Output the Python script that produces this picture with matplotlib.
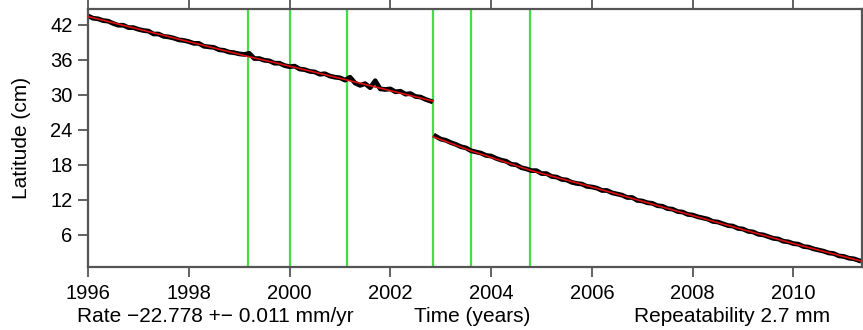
import matplotlib
matplotlib.use("Agg")
import matplotlib.pyplot as plt

plt.rcParams['font.family'] = ['Liberation Sans', 'DejaVu Sans']

# Observed latitude (cm), segment before the 2002.85 offset
t1 = [1996.0, 1996.1, 1996.2, 1996.3, 1996.4, 1996.5, 1996.6, 1996.7, 1996.8, 1996.9,
      1997.0, 1997.1, 1997.2, 1997.3, 1997.4, 1997.5, 1997.6, 1997.7, 1997.8, 1997.9,
      1998.0, 1998.1, 1998.2, 1998.3, 1998.4, 1998.5, 1998.6, 1998.7, 1998.8, 1998.9,
      1999.0, 1999.1, 1999.2, 1999.3, 1999.4, 1999.5, 1999.6, 1999.7, 1999.8, 1999.9,
      2000.0, 2000.1, 2000.2, 2000.3, 2000.4, 2000.5, 2000.6, 2000.7, 2000.8, 2000.9,
      2001.0, 2001.1, 2001.2, 2001.3, 2001.4, 2001.5, 2001.6, 2001.7, 2001.8, 2001.9,
      2002.0, 2002.1, 2002.2, 2002.3, 2002.4, 2002.5, 2002.6, 2002.7, 2002.8]
lat1 = [43.5, 43.1, 43.0, 42.7, 42.6, 42.2, 41.9, 41.9, 41.5, 41.5,
        41.2, 41.0, 40.9, 40.4, 40.4, 40.0, 39.9, 39.7, 39.4, 39.3,
        39.1, 38.8, 38.8, 38.3, 38.2, 38.1, 37.7, 37.6, 37.3, 37.2,
        37.0, 36.9, 37.1, 36.2, 36.2, 35.9, 35.8, 35.4, 35.4, 35.0,
        34.8, 34.9, 34.4, 34.3, 34.0, 33.9, 33.5, 33.6, 33.2, 33.0,
        32.9, 32.5, 33.0, 32.0, 31.6, 31.9, 31.2, 32.4, 31.0, 30.9,
        31.0, 30.5, 30.6, 30.1, 30.2, 29.7, 29.6, 29.2, 28.9]

# Observed latitude (cm), segment after the offset
t2 = [2002.9, 2003.0, 2003.1, 2003.2, 2003.3, 2003.4, 2003.5, 2003.6, 2003.7, 2003.8,
      2003.9, 2004.0, 2004.1, 2004.2, 2004.3, 2004.4, 2004.5, 2004.6, 2004.7, 2004.8,
      2004.9, 2005.0, 2005.1, 2005.2, 2005.3, 2005.4, 2005.5, 2005.6, 2005.7, 2005.8,
      2005.9, 2006.0, 2006.1, 2006.2, 2006.3, 2006.4, 2006.5, 2006.6, 2006.7, 2006.8,
      2006.9, 2007.0, 2007.1, 2007.2, 2007.3, 2007.4, 2007.5, 2007.6, 2007.7, 2007.8,
      2007.9, 2008.0, 2008.1, 2008.2, 2008.3, 2008.4, 2008.5, 2008.6, 2008.7, 2008.8,
      2008.9, 2009.0, 2009.1, 2009.2, 2009.3, 2009.4, 2009.5, 2009.6, 2009.7, 2009.8,
      2009.9, 2010.0, 2010.1, 2010.2, 2010.3, 2010.4, 2010.5, 2010.6, 2010.7, 2010.8,
      2010.9, 2011.0, 2011.1, 2011.2, 2011.3]
lat2 = [22.9, 22.4, 22.2, 21.8, 21.5, 21.1, 20.9, 20.4, 20.2, 20.0,
        19.6, 19.5, 19.1, 18.8, 18.6, 18.1, 18.0, 17.5, 17.3, 17.0,
        17.0, 16.5, 16.5, 16.0, 15.9, 15.5, 15.4, 15.0, 14.8, 14.7,
        14.3, 14.2, 14.0, 13.6, 13.6, 13.2, 13.0, 12.8, 12.4, 12.4,
        11.9, 11.8, 11.5, 11.4, 11.0, 10.9, 10.5, 10.4, 10.0, 9.9,
        9.5, 9.4, 9.1, 8.9, 8.7, 8.3, 8.2, 7.9, 7.6, 7.5,
        7.1, 7.0, 6.6, 6.5, 6.1, 6.0, 5.7, 5.4, 5.3, 4.9,
        4.8, 4.5, 4.4, 4.0, 3.9, 3.6, 3.4, 3.2, 2.9, 2.8,
        2.4, 2.3, 2.0, 1.9, 1.6]

# Model fit (cm)
fit_t1 = [1996.0, 1999.2, 2000.0, 2001.15, 2002.85]
fit_v1 = [43.4, 36.5, 34.9, 32.5, 28.9]
fit_t2 = [2002.85, 2003.6, 2004.8, 2006.0, 2008.0, 2010.0, 2011.35]
fit_v2 = [22.8, 20.4, 17.0, 14.2, 9.3, 4.5, 1.5]

# Event epochs (green lines)
events = [1999.17, 2000.0, 2001.14, 2002.85, 2003.6, 2004.77]

xticks = [1996, 1998, 2000, 2002, 2004, 2006, 2008, 2010]
yticks = [6, 12, 18, 24, 30, 36, 42]

fig = plt.figure(figsize=(8.63, 3.30), dpi=100)
ax = fig.add_axes([0.102, 0.191, 0.8968, 0.782])

for e in events:
    ax.axvline(e, color='#44dd44', lw=1.6, zorder=1)

ax.plot(t1, lat1, color='black', lw=3.4, zorder=2)
ax.plot(t2, lat2, color='black', lw=3.4, zorder=2)
ax.plot(fit_t1, fit_v1, color='#e01010', lw=1.2, zorder=3)
ax.plot(fit_t2, fit_v2, color='#e01010', lw=1.2, zorder=3)

ax.set_xlim(1996.0, 2011.36)
ax.set_ylim(0.5, 44.7)
ax.set_xticks(xticks)
ax.set_yticks(yticks)
ax.tick_params(axis='x', which='both', top=True, bottom=True, direction='out',
               length=7, width=1.3, color='#555555', labelsize=14.5, pad=5)
ax.tick_params(axis='y', left=True, right=False, direction='out',
               length=7, width=1.3, color='#555555', labelsize=14.5, pad=4)
for s in ax.spines.values():
    s.set_color('#555555')
    s.set_linewidth(1.6)

ax.set_ylabel('Latitude (cm)', fontsize=15, labelpad=14)

fig.text(0.089, 0.024, 'Rate \u221222.778 +\u2212 0.011 mm/yr', fontsize=15, ha='left', va='baseline')
fig.text(0.547, 0.024, 'Time (years)', fontsize=15, ha='center', va='baseline')
fig.text(0.962, 0.024, 'Repeatability 2.7 mm', fontsize=15, ha='right', va='baseline')

fig.savefig('out.png', dpi=100)
